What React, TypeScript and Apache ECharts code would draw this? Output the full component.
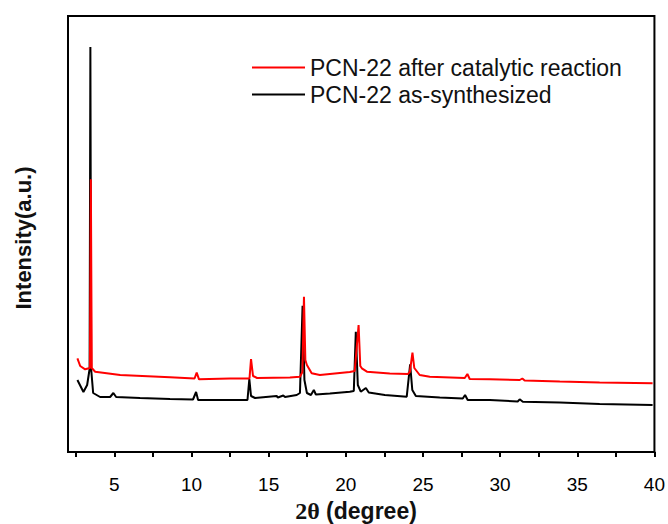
import React, { useEffect, useRef } from "react";
import * as echarts from "echarts";

const seriesNames = ["PCN-22 after catalytic reaction", "PCN-22 as-synthesized"];

// 2θ (degree), intensity (a.u.)
const asSynthesized: number[][] = [
  [2.61, 72], [3.0, 60], [3.24, 67], [3.4, 83], [3.45, 405], [3.5, 83], [3.63, 59],
  [4.08, 55], [4.73, 55], [4.94, 59], [5.12, 55], [6.67, 54], [8.61, 53], [10.1, 52.5],
  [10.3, 60], [10.43, 52], [12.5, 52], [13.63, 52], [13.75, 73], [13.86, 56], [14.12, 54],
  [15.52, 56], [15.6, 54.5], [15.95, 56.5], [16.06, 55], [16.82, 57], [17.03, 59],
  [17.2, 146.3], [17.32, 72], [17.48, 59], [17.74, 57], [17.93, 62], [18.06, 57.5],
  [18.97, 58.5], [20.26, 60.3], [20.52, 61], [20.65, 120.3], [20.78, 67], [20.97, 60.3],
  [21.3, 64], [21.49, 59.5], [22.53, 57], [23.95, 55.3], [24.17, 87.7], [24.31, 62],
  [24.54, 56], [26.09, 54.5], [27.58, 53.5], [27.73, 57], [27.9, 52], [29.33, 52],
  [31.14, 50.5], [31.27, 52.7], [31.47, 50.3], [33.87, 49.5], [36.45, 48], [39.88, 47],
];

const afterReaction: number[][] = [
  [2.61, 93.7], [2.79, 86], [3.11, 82.7], [3.42, 84], [3.48, 272.7], [3.54, 84], [3.76, 80.3],
  [5.38, 77], [8.61, 74.7], [10.2, 73.5], [10.34, 79.3], [10.49, 72.7], [12.5, 73.5],
  [13.76, 73.5], [13.86, 93], [13.99, 76], [14.25, 74], [16.38, 74.5], [17.03, 75.3],
  [17.19, 80], [17.29, 155.3], [17.38, 92], [17.48, 87], [17.79, 78.7], [18.32, 77],
  [20.26, 80], [20.58, 81], [20.83, 127], [20.94, 86], [21.04, 83.7], [21.37, 80.3],
  [22.85, 78.5], [24.02, 78], [24.15, 80], [24.32, 99.3], [24.44, 84], [24.79, 77],
  [25.44, 75.3], [27.71, 74], [27.88, 78], [28.03, 73], [29.33, 72.7], [31.27, 72],
  [31.44, 73.5], [31.59, 71.5], [33.87, 70.5], [36.45, 69.5], [39.88, 68.7],
];

const xTickValues = [2.5, 5, 7.5, 10, 12.5, 15, 17.5, 20, 22.5, 25, 27.5, 30, 32.5, 35, 37.5, 40];
const xLabelValues = [5, 10, 15, 20, 25, 30, 35, 40];

const yTitle = "Intensity(a.u.)";

const SANS = "'Liberation Sans', Arial, sans-serif";
const SERIF = "'Liberation Serif', 'Times New Roman', serif";

export default function App() {
  const ref = useRef<HTMLDivElement>(null);
  useEffect(() => {
    if (!ref.current) return;
    const chart = echarts.init(ref.current, null, { renderer: "svg" });
    chart.setOption({
      animation: false,
      backgroundColor: "#ffffff",
      grid: {
        left: 68,
        right: 13,
        top: 16,
        bottom: 72,
        show: true,
        borderColor: "#000",
        borderWidth: 2,
        backgroundColor: "transparent",
      },
      legend: {
        orient: "vertical",
        left: 252,
        top: 56,
        padding: 0,
        itemGap: 4,
        itemWidth: 53,
        itemHeight: 2,
        icon: "rect",
        data: [
          { name: seriesNames[0], itemStyle: { color: "#ff0000" } },
          { name: seriesNames[1], itemStyle: { color: "#000000" } },
        ],
        textStyle: { fontFamily: SANS, fontSize: 23, color: "#111" },
      },
      xAxis: {
        type: "value",
        min: 2,
        max: 40,
        splitLine: { show: false },
        axisLine: { show: true, lineStyle: { color: "#000", width: 2 } },
        axisTick: {
          show: true,
          inside: false,
          length: 5,
          customValues: xTickValues,
          lineStyle: { color: "#000", width: 2 },
        },
        axisLabel: {
          customValues: xLabelValues,
          fontFamily: SANS,
          fontSize: 19,
          color: "#000",
          margin: 23,
        },
      },
      yAxis: {
        type: "value",
        min: 0,
        max: 436,
        splitLine: { show: false },
        axisLine: { show: true, lineStyle: { color: "#000", width: 2 } },
        axisTick: { show: false },
        axisLabel: { show: false },
      },
      graphic: [
        {
          type: "text",
          x: 356,
          y: 511,
          style: {
            text: "{a|2θ}{b| (degree)}",
            rich: {
              a: { fontFamily: SERIF, fontWeight: "bold", fontSize: 24, fill: "#111" },
              b: { fontFamily: SANS, fontWeight: "bold", fontSize: 23, fill: "#111" },
            },
            align: "center",
            verticalAlign: "middle",
          },
        },
        {
          type: "text",
          x: 23,
          y: 238,
          rotation: Math.PI / 2,
          style: {
            text: yTitle,
            fontFamily: SANS,
            fontWeight: "bold",
            fontSize: 22,
            fill: "#111",
            align: "center",
            verticalAlign: "middle",
          },
        },
      ],
      series: [
        {
          name: seriesNames[1],
          type: "line",
          data: asSynthesized,
          symbol: "none",
          lineStyle: { color: "#000000", width: 2 },
          itemStyle: { color: "#000000" },
        },
        {
          name: seriesNames[0],
          type: "line",
          data: afterReaction,
          symbol: "none",
          lineStyle: { color: "#ff0000", width: 2 },
          itemStyle: { color: "#ff0000" },
        },
      ],
    });
    return () => chart.dispose();
  }, []);
  return (
    <div
      ref={ref}
      style={{ position: "fixed", left: 0, top: 0, width: 668, height: 524 }}
    />
  );
}
